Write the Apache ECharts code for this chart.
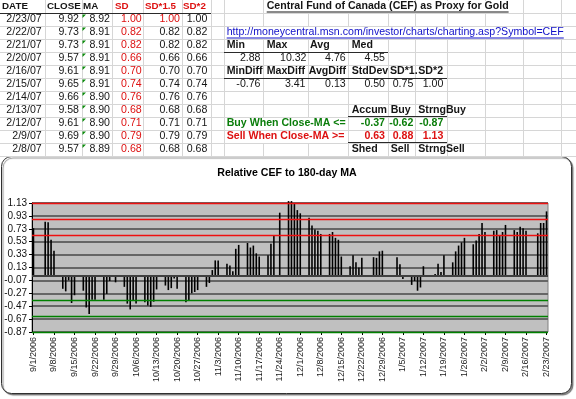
<!DOCTYPE html>
<html><head><meta charset="utf-8">
<script src="https://cdn.jsdelivr.net/npm/echarts@6/dist/echarts.min.js"></script>
<style>html,body{margin:0;padding:0;background:#fff}#c{width:576px;height:399px}</style>
</head><body><div id="c"></div>
<script>
// ---------- spreadsheet table (left) ----------
const tableHeads = ['DATE','CLOSE','MA','SD','SD*1.5','SD*2'];
const tableDates = ['2/23/07','2/22/07','2/21/07','2/20/07','2/16/07','2/15/07','2/14/07','2/13/07','2/12/07','2/9/07','2/8/07'];
const tableClose = [9.92,9.73,9.73,9.57,9.61,9.65,9.66,9.58,9.61,9.69,9.57];
const tableMA    = [8.92,8.91,8.91,8.91,8.91,8.91,8.90,8.90,8.90,8.90,8.89];
const tableSD    = [1.00,0.82,0.82,0.66,0.70,0.74,0.76,0.68,0.71,0.79,0.68];
const tableSD15  = [1.00,0.82,0.82,0.66,0.70,0.74,0.76,0.68,0.71,0.79,0.68];
const tableSD2   = [1.00,0.82,0.82,0.66,0.70,0.74,0.76,0.68,0.71,0.79,0.68];
// ---------- summary block (right) ----------
const sheetTitle = 'Central Fund of Canada (CEF) as Proxy for Gold';
const sheetLink = 'http://moneycentral.msn.com/investor/charts/charting.asp?Symbol=CEF';
const statHeads1 = ['Min','Max','Avg','Med'];
const statVals1  = ['2.88','10.32','4.76','4.55'];
const statHeads2 = ['MinDiff','MaxDiff','AvgDiff','StdDev','SD*1.','SD*2'];
const statVals2  = ['-0.76','3.41','0.13','0.50','0.75','1.00'];
const buyHeads   = ['Accum','Buy','StrngBuy'];
const buyLabel   = 'Buy When Close-MA <=';
const buyLevels  = [-0.37,-0.62,-0.87];
const sellLabel  = 'Sell When Close-MA >=';
const sellLevels = [0.63,0.88,1.13];
const sellHeads  = ['Shed','Sell','StrngSell'];
// ---------- chart ----------
const chartTitle = 'Relative CEF to 180-day MA';
const firstDay = '9/1/2006', lastDay = '2/23/2007';
const tradeDates = [
'9/1/2006',
'9/5/2006','9/6/2006','9/7/2006','9/8/2006',
'9/11/2006','9/12/2006','9/13/2006','9/14/2006','9/15/2006',
'9/18/2006','9/19/2006','9/20/2006','9/21/2006','9/22/2006',
'9/25/2006','9/26/2006','9/27/2006','9/28/2006','9/29/2006',
'10/2/2006','10/3/2006','10/4/2006','10/5/2006','10/6/2006',
'10/9/2006','10/10/2006','10/11/2006','10/12/2006','10/13/2006',
'10/16/2006','10/17/2006','10/18/2006','10/19/2006','10/20/2006',
'10/23/2006','10/24/2006','10/25/2006','10/26/2006','10/27/2006',
'10/30/2006','10/31/2006','11/1/2006','11/2/2006','11/3/2006',
'11/6/2006','11/7/2006','11/8/2006','11/9/2006','11/10/2006',
'11/13/2006','11/14/2006','11/15/2006','11/16/2006','11/17/2006',
'11/20/2006','11/21/2006','11/22/2006','11/24/2006',
'11/27/2006','11/28/2006','11/29/2006','11/30/2006','12/1/2006',
'12/4/2006','12/5/2006','12/6/2006','12/7/2006','12/8/2006',
'12/11/2006','12/12/2006','12/13/2006','12/14/2006','12/15/2006',
'12/18/2006','12/19/2006','12/20/2006','12/21/2006','12/22/2006',
'12/26/2006','12/27/2006','12/28/2006','12/29/2006',
'1/3/2007','1/4/2007','1/5/2007',
'1/8/2007','1/9/2007','1/10/2007','1/11/2007','1/12/2007',
'1/16/2007','1/17/2007','1/18/2007','1/19/2007',
'1/22/2007','1/23/2007','1/24/2007','1/25/2007','1/26/2007',
'1/29/2007','1/30/2007','1/31/2007','2/1/2007','2/2/2007',
'2/5/2007','2/6/2007','2/7/2007','2/8/2007','2/9/2007',
'2/12/2007','2/13/2007','2/14/2007','2/15/2007','2/16/2007',
'2/20/2007','2/21/2007','2/22/2007','2/23/2007'];
const relValues = [
0.74,
0.84,0.83,0.56,0.39,
-0.20,-0.24,-0.07,-0.42,-0.30,
-0.23,-0.49,-0.59,-0.37,-0.37,
-0.37,-0.28,-0.08,-0.01,-0.10,
-0.17,-0.43,-0.52,-0.39,-0.43,
-0.41,-0.46,-0.48,-0.40,-0.21,
-0.15,-0.22,-0.19,-0.04,-0.20,
-0.41,-0.38,-0.27,-0.25,-0.22,
-0.17,-0.11,0.09,0.24,0.24,
0.19,0.16,0.07,0.42,0.48,
0.51,0.44,0.47,0.35,0.30,
0.32,0.50,0.63,0.98,
1.16,1.16,1.12,1.02,0.97,
0.90,0.78,0.72,0.70,0.65,
0.65,0.68,0.59,0.56,0.30,
0.15,0.32,0.21,0.13,0.28,
0.29,0.28,0.38,0.39,
0.29,0.18,-0.05,
-0.14,-0.08,-0.23,-0.18,0.15,
0.03,0.19,0.06,0.32,
0.21,0.38,0.47,0.52,0.59,
0.49,0.55,0.65,0.82,0.68,
0.70,0.71,0.63,0.68,0.79,
0.71,0.68,0.76,0.74,0.70,
0.66,0.82,0.82,1.00];
const yMin = -0.87, yMax = 1.13, yStep = 0.2;

// ---------- build ----------
const FONT = '"Liberation Sans", Arial, Helvetica, sans-serif';
const FS = 10.6;
const RED = '#dd1111', GREEN = '#0a7d0a', BLUE = '#1010c8', INK = '#151515';
const mctx = document.createElement('canvas').getContext('2d');
function tw(s, font){ mctx.font = font; return mctx.measureText(s).width; }
const G = [];
const rowY = i => 6.5 + 13 * i;
function line(x1,y1,x2,y2,color,w,z){ G.push({type:'line', silent:true, z:z, shape:{x1,y1,x2,y2}, style:{stroke:color, lineWidth:w}}); }
function box(x,y,w,h,fill,z){ G.push({type:'rect', silent:true, z:z, shape:{x,y,width:w,height:h}, style:{fill:fill}}); }
function text(x,y,s,o){
  o = o || {};
  const font = (o.bold ? 'bold ' : '') + (o.size || FS) + 'px ' + FONT;
  const al = o.align || 'left';
  G.push({type:'text', silent:true, z:-5, x:x, y:y,
    style:{text:s, font:font, fill:o.color || INK, textAlign:al, align:al, textVerticalAlign:'middle', verticalAlign:'middle'}});
  if (o.underline){
    const w = tw(s, font); const x0 = al === 'right' ? x - w : x;
    line(x0, y + 5.5, x0 + w, y + 5.5, o.color || INK, 1, -5);
  }
}
// light spreadsheet gridlines
const colEdges = [45,82,112,143,182,211,224,263,308,348,388,415,447,485,523,561];
for (let k = 0; k <= 11; k++) line(0, 13.5 + 13*k, 576, 13.5 + 13*k, '#d6d6d6', 1, -9);
colEdges.forEach(x => line(x + 0.5, 0, x + 0.5, 156, '#d6d6d6', 1, -9));
// cells overflowed by text hide gridlines
box(264, 1, 258, 12, '#fff', -8);
box(225, 27, 351, 12, '#fff', -8);
box(225, 118, 122.5, 12, '#fff', -8);
box(225, 131, 122.5, 12, '#fff', -8);
box(448, 105, 36.5, 12, '#fff', -8);
box(448, 144, 36.5, 12, '#fff', -8);
// dark cell borders
line(0, 13.5, 211, 13.5, '#2a2a2a', 1, -6);
line(224, 52.5, 388, 52.5, '#2a2a2a', 1, -6);
line(224, 78.5, 447, 78.5, '#2a2a2a', 1, -6);
line(348, 116.5, 447, 116.5, '#2a2a2a', 1, -6);
line(348, 142.5, 447, 142.5, '#2a2a2a', 1, -6);
// left table
const headLeft = [2,47,83,115,145,183];
tableHeads.forEach((h,j) => text(headLeft[j], rowY(0), h, {bold:true, size:9.8, color: j >= 3 ? RED : INK}));
tableDates.forEach((d,i) => {
  const y = rowY(i + 1);
  text(41.7, y, d, {align:'right'});
  text(79, y, tableClose[i].toFixed(2), {align:'right'});
  text(110, y, tableMA[i].toFixed(2), {align:'right'});
  text(141.7, y, tableSD[i].toFixed(2), {align:'right', color:RED});
  text(180, y, tableSD15[i].toFixed(2), {align:'right', color: i === 0 ? RED : INK});
  text(207.3, y, tableSD2[i].toFixed(2), {align:'right'});
  const top = 13 * (i + 1);
  G.push({type:'polygon', silent:true, z:-5, shape:{points:[[82.5, top + 1.5],[86, top + 1.5],[82.5, top + 5]]}, style:{fill:'#0a8a0a'}});
});
// right block
text(266.7, rowY(0), sheetTitle, {bold:true, underline:true});
text(226.7, rowY(2), sheetLink, {color:BLUE, underline:true});
[226.7,266.7,310,351.7].forEach((x,j) => text(x, rowY(3), statHeads1[j], {bold:true}));
[260.5,306.5,345.7,385].forEach((x,j) => text(x, rowY(4), statVals1[j], {align:'right'}));
[226.7,266.7,308.7,351.7,390,418.3].forEach((x,j) => text(x, rowY(5), statHeads2[j], {bold:true}));
[260.5,305.5,345.7,385,413.3,443.3].forEach((x,j) => text(x, rowY(6), statVals2[j], {align:'right'}));
const blockLeft = [351.7,390.7,418.3], blockRight = [385,413.3,443.3];
buyHeads.forEach((h,j) => text(blockLeft[j], rowY(8), h, {bold:true}));
text(226.7, rowY(9), buyLabel, {bold:true, color:GREEN});
buyLevels.forEach((v,j) => text(blockRight[j], rowY(9), v.toFixed(2), {bold:true, color:GREEN, align:'right'}));
text(226.7, rowY(10), sellLabel, {bold:true, color:RED});
sellLevels.forEach((v,j) => text(blockRight[j], rowY(10), v.toFixed(2), {bold:true, color:RED, align:'right'}));
sellHeads.forEach((h,j) => text(blockLeft[j], rowY(11), h, {bold:true}));
// chart area frame
G.push({type:'rect', silent:true, z:-10, shape:{x:1.5, y:156.5, width:570, height:237, r:10},
  style:{fill:'#fff', stroke:'#303030', lineWidth:1, shadowColor:'rgba(0,0,0,0.45)', shadowOffsetX:1.5, shadowOffsetY:1.5, shadowBlur:1}});

// calendar-day category axis (Excel date axis)
function parseD(s){ const p = s.split('/').map(Number); return new Date(p[2], p[0] - 1, p[1]); }
const fmt = d => (d.getMonth() + 1) + '/' + d.getDate() + '/' + d.getFullYear();
const days = [];
for (let d = parseD(firstDay); d <= parseD(lastDay); d.setDate(d.getDate() + 1)) days.push(fmt(d));
const valByDate = {};
tradeDates.forEach((d,i) => valByDate[d] = relValues[i]);
const barData = days.map(d => (d in valByDate) ? valByDate[d] : null);

const chart = echarts.init(document.getElementById('c'), null, {renderer:'canvas'});
chart.setOption({
  animation:false,
  backgroundColor:'#fff',
  graphic: G,
  title:{text:chartTitle, left:287, top:168, textAlign:'center', padding:0,
    textStyle:{fontFamily:FONT, fontSize:10.6, fontWeight:'bold', color:'#000'}},
  grid:{left:32, right:28, top:203, bottom:67, show:true, backgroundColor:'#c0c0c0', borderColor:'#808080', borderWidth:1},
  xAxis:{type:'category', data:days, boundaryGap:true,
    axisLine:{show:false, onZero:false},
    axisTick:{show:true, interval:6, alignWithLabel:true, length:3, lineStyle:{color:'#000'}},
    axisLabel:{interval:6, rotate:90, fontSize:9, fontFamily:FONT, color:'#222', margin:5},
    splitLine:{show:false}},
  yAxis:{type:'value', min:yMin, max:yMax, interval:yStep,
    axisLine:{show:true, lineStyle:{color:'#000', width:1}},
    axisTick:{show:true, length:3, lineStyle:{color:'#000'}},
    axisLabel:{fontSize:10, fontFamily:FONT, color:'#111', margin:5, formatter: v => v.toFixed(2)},
    splitLine:{show:true, lineStyle:{color:'#666', width:2}}},
  series:[{type:'bar', data:barData, barWidth:1.6, clip:false, itemStyle:{color:'#000'},
    markLine:{silent:true, symbol:'none', animation:false, label:{show:false},
      data:[{yAxis:0, lineStyle:{color:'#404040', width:2, type:'solid'}}]
        .concat(sellLevels.map(v => ({yAxis:v, lineStyle:{color:'#ee1111', width:1.3, type:'solid'}})))
        .concat(buyLevels.map(v => ({yAxis:v, lineStyle:{color:'#008000', width:1.3, type:'solid'}})))}}]
});
</script></body></html>
